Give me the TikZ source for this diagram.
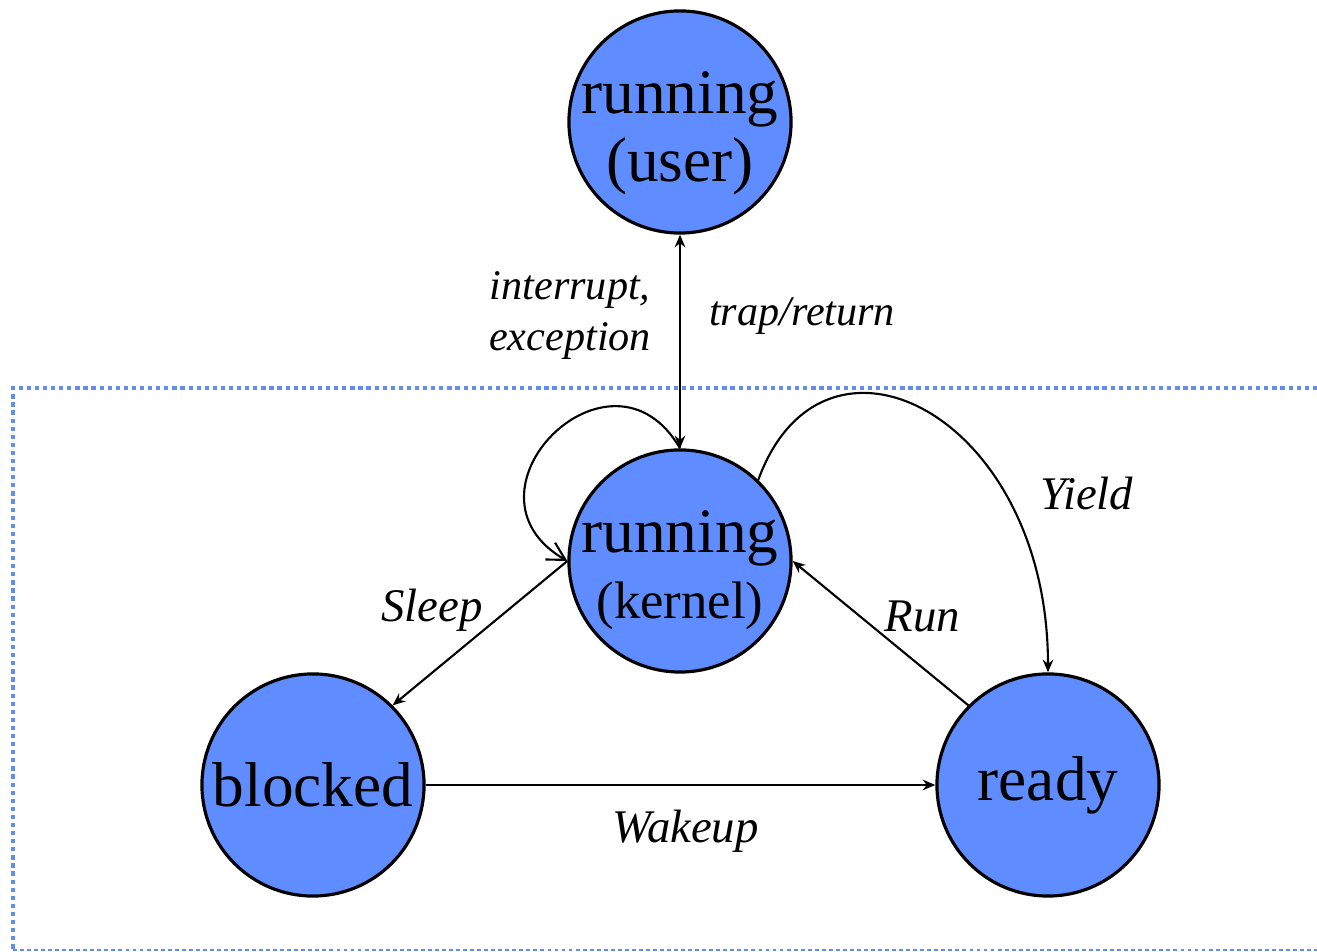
\documentclass[tikz,border=0pt]{standalone}
\usepackage{fontspec}
\setmainfont{Liberation Serif}
\usetikzlibrary{arrows.meta,automata}
\definecolor{stateblue}{RGB}{95,141,255}
\definecolor{frameblue}{RGB}{98,140,240}

\begin{document}
\begin{tikzpicture}[x=0.01cm,y=0.01cm,->,>={Stealth[length=3.6pt,width=3pt]},
		line width=0.6pt]
		\tikzstyle{every state}=[fill=stateblue,draw=black,text=black,line width=0.9pt,
			minimum size=2.22cm,inner sep=-12pt,align=center,font=\fontsize{18}{21}\selectfont]
		\tikzstyle{lbl}=[font=\itshape\fontsize{13.3}{16}\selectfont,inner sep=0pt,text=black]
		\tikzstyle{smalllbl}=[font=\itshape\fontsize{12}{14.5}\selectfont,inner sep=0pt,text=black,align=center]
		\useasboundingbox (0,0) rectangle (1317,-952);
		
		% kernel region
		\draw[-,frameblue,line width=0.9pt,dash pattern=on 1.2pt off 1.1pt]
		(1317,-388) -- (13,-388) -- (13,-952);
		\draw[-,frameblue,line width=0.6pt,dash pattern=on 1.1pt off 0.9pt]
		(13,-950) -- (1317,-950);
		
		\node[state,font=\fontsize{18}{19.6}\selectfont] (user) at (680,-122)
			{\rule{0pt}{18.5pt}running\\(user)\rule[-4pt]{0pt}{4pt}};
		\node[state,font=\fontsize{18}{18.8}\selectfont] (kernel) at (680,-561)
			{\rule{0pt}{17.7pt}running\\{\fontsize{15}{18.8}\selectfont(kernel)}\rule[-4pt]{0pt}{4pt}};
		\node[state] (blocked) at (313,-785)  {blocked};
		\node[state] (ready)   at (1048,-785) {ready};
		
		\path[<->]
		(user.270) edge node[smalllbl,pos=0.38,left=0.28cm] {interrupt,\\exception}
		               node[smalllbl,pos=0.38,right=0.28cm] {trap/return} (kernel.90);
		\path[->]
		(kernel.90) edge [-{Straight Barb[length=5pt,width=5.5pt]},out=120,in=150,looseness=2.2] (kernel.180)
		(kernel.180) edge node[lbl,pos=0.34,left=0.24cm] {Sleep} (blocked.45)
		(kernel.46) edge [out=70,in=90,out looseness=1.4,in looseness=1.9]
			node[lbl,pos=0.72,right=0.36cm] {Yield} (ready.90)
		(ready.135) edge node[lbl,pos=0.5,above right,xshift=0.03cm] {Run} (kernel.0)
		(blocked.0) edge node[lbl,below=0.24cm,xshift=0.05cm] {Wakeup} (ready.180);
\end{tikzpicture}
\end{document}
